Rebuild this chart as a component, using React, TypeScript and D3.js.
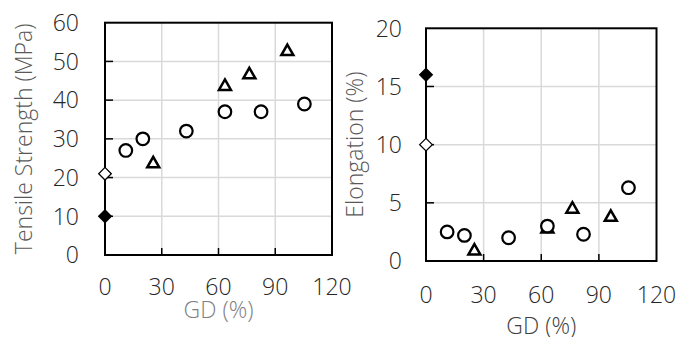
import React from "react";
import * as d3 from "d3";

// ---------- data ----------
const tsCircleGD = [11, 20, 43, 63.4, 82.5, 105.4];
const tsCircleVal = [27, 30, 32, 37, 37, 39];
const tsTriGD = [25.5, 63.4, 76.3, 96.4];
const tsTriVal = [24, 44, 47, 53];
const tsDiamondOpen = [[0, 21]];
const tsDiamondFilled = [[0, 10]];

const elCircleGD = [11, 20, 43, 63.2, 82, 105.4];
const elCircleVal = [2.5, 2.2, 2.0, 3.0, 2.3, 6.3];
const elTriGD = [25.2, 63.2, 76.2, 96.2];
const elTriVal = [1.0, 2.9, 4.6, 3.9];
const elDiamondOpen = [[0, 10]];
const elDiamondFilled = [[0, 16]];

const xTicks = [0, 30, 60, 90, 120];
const tsTicks = [0, 10, 20, 30, 40, 50, 60];
const elTicks = [0, 5, 10, 15, 20];

const FONT = "'Open Sans', sans-serif";
const FS = 23;

type PanelProps = {
  x0: number; x1: number; y0: number; y1: number;
  yMax: number; yTicks: number[];
  circles: [number[], number[]]; tris: [number[], number[]];
  dOpen: number[][]; dFilled: number[][];
  yTitle: string; yTitleX: number; yLabelX: number;
  xLabelY: number; xTitleY: number; xTitleColor: string;
};

function Panel(p: PanelProps) {
  const x = d3.scaleLinear().domain([0, 120]).range([p.x0, p.x1]);
  const y = d3.scaleLinear().domain([0, p.yMax]).range([p.y0, p.y1]);
  const grid = "#d9d9d9";
  const tri = (cx: number, cy: number) => {
    const w = 6, h = 10.5;
    return `M${cx},${cy - h / 2}L${cx + w},${cy + h / 2}L${cx - w},${cy + h / 2}Z`;
  };
  const dia = (cx: number, cy: number) => {
    const r = 6.3;
    return `M${cx},${cy - r}L${cx + r},${cy}L${cx},${cy + r}L${cx - r},${cy}Z`;
  };
  const midY = (p.y0 + p.y1) / 2;
  return (
    <g>
      {xTicks.slice(1, -1).map((t) => (
        <line key={"gx" + t} x1={x(t)} x2={x(t)} y1={p.y0} y2={p.y1} stroke={grid} strokeWidth={1.5} />
      ))}
      {p.yTicks.slice(1, -1).map((t) => (
        <line key={"gy" + t} x1={p.x0} x2={p.x1} y1={y(t)} y2={y(t)} stroke={grid} strokeWidth={1.5} />
      ))}
      {xTicks.slice(1, -1).map((t) => (
        <line key={"tx" + t} x1={x(t)} x2={x(t)} y1={p.y0} y2={p.y0 - 7} stroke="#000" strokeWidth={1.5} />
      ))}
      {p.yTicks.slice(1, -1).map((t) => (
        <line key={"ty" + t} x1={p.x0} x2={p.x0 + 8} y1={y(t)} y2={y(t)} stroke="#000" strokeWidth={1.5} />
      ))}
      <rect x={p.x0} y={p.y1} width={p.x1 - p.x0} height={p.y0 - p.y1} fill="none" stroke="#000" strokeWidth={2} />
      {p.yTicks.map((t) => (
        <text key={"yl" + t} x={p.yLabelX} y={y(t)} dy="0.36em" textAnchor="end" fontSize={FS} fontWeight={300} fill="#262626" fontFamily={FONT}>{t}</text>
      ))}
      {xTicks.map((t) => (
        <text key={"xl" + t} x={x(t)} y={p.xLabelY} textAnchor="middle" fontSize={FS} fontWeight={300} fill="#262626" fontFamily={FONT}>{t}</text>
      ))}
      <text transform={`translate(${p.yTitleX},${midY}) rotate(-90)`} textAnchor="middle" dy="0.36em" fontSize={FS} fontWeight={300} fill="#595959" fontFamily={FONT}>{p.yTitle}</text>
      <text x={(p.x0 + p.x1) / 2} y={p.xTitleY} textAnchor="middle" fontSize={FS} fontWeight={300} fill={p.xTitleColor} fontFamily={FONT}>GD (%)</text>
      {p.tris[0].map((g, i) => (
        <path key={"t" + i} d={tri(x(g), y(p.tris[1][i]))} fill="#fff" stroke="#000" strokeWidth={2.5} strokeLinejoin="miter" />
      ))}
      {p.circles[0].map((g, i) => (
        <circle key={"c" + i} cx={x(g)} cy={y(p.circles[1][i])} r={6.3} fill="#fff" stroke="#000" strokeWidth={2.2} />
      ))}
      {p.dOpen.map((d, i) => (
        <path key={"do" + i} d={dia(x(d[0]), y(d[1]))} fill="#fff" stroke="#000" strokeWidth={1.3} />
      ))}
      {p.dFilled.map((d, i) => (
        <path key={"df" + i} d={dia(x(d[0]), y(d[1]))} fill="#000" stroke="#000" strokeWidth={1.3} />
      ))}
    </g>
  );
}

export default function App() {
  return (
    <svg width={677} height={337} style={{ position: "absolute", left: 0, top: 0, background: "#fff" }}>
      <rect width={677} height={337} fill="#fff" />
      <Panel x0={105} x1={332} y0={255} y1={22.7} yMax={60} yTicks={tsTicks}
        circles={[tsCircleGD, tsCircleVal]} tris={[tsTriGD, tsTriVal]}
        dOpen={tsDiamondOpen} dFilled={tsDiamondFilled}
        yTitle="Tensile Strength (MPa)" yTitleX={24} yLabelX={79}
        xLabelY={295} xTitleY={318} xTitleColor="#7f7f7f" />
      <Panel x0={426} x1={656.5} y0={261} y1={28.3} yMax={20} yTicks={elTicks}
        circles={[elCircleGD, elCircleVal]} tris={[elTriGD, elTriVal]}
        dOpen={elDiamondOpen} dFilled={elDiamondFilled}
        yTitle="Elongation (%)" yTitleX={355} yLabelX={402}
        xLabelY={303} xTitleY={334} xTitleColor="#404040" />
    </svg>
  );
}
